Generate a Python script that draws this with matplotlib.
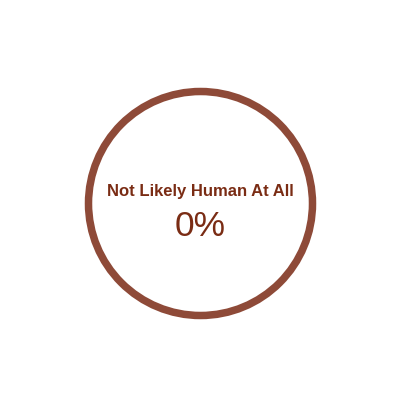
import matplotlib.pyplot as plt
from matplotlib.patches import Circle

# gauge data
labels = ["Not Likely Human At All"]
values = [0]

ring_color = "#8e4a38"
text_color = "#7a2c14"

fig = plt.figure(figsize=(4, 4), dpi=100)
ax = fig.add_axes([0, 0, 1, 1])
ax.set_xlim(0, 400)
ax.set_ylim(400, 0)
ax.set_aspect('equal')
ax.axis('off')

cx, cy, r = 200.5, 203.5, 112
ring = Circle((cx, cy), r, fill=False, edgecolor=ring_color, linewidth=7.5 * 72 / 100)
ax.add_patch(ring)

ax.text(cx, 195.7, labels[0], ha='center', va='baseline', fontsize=12,
        fontweight='bold', color=text_color, family='Liberation Sans')
ax.text(cx, 236.5, f"{values[0]}%", ha='center', va='baseline', fontsize=25.5,
        color=text_color, family='Liberation Sans')

fig.savefig('out.png', dpi=100, facecolor='white')
